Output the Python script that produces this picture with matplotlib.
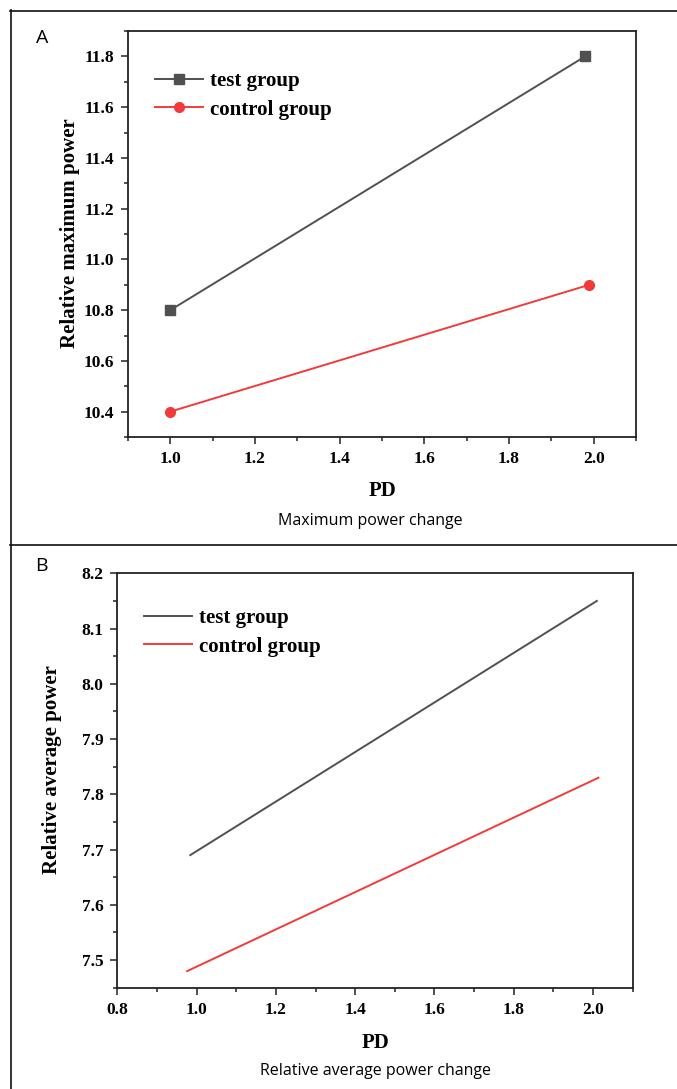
import matplotlib
matplotlib.use("Agg")
import matplotlib.pyplot as plt
from matplotlib.lines import Line2D

# ---- data ----
pd_a_test = [1.0, 1.98]
max_test = [10.8, 11.8]
pd_a_ctrl = [1.0, 1.99]
max_ctrl = [10.4, 10.9]

pd_b_test = [0.984, 2.01]
avg_test = [7.69, 8.15]
pd_b_ctrl = [0.976, 2.014]
avg_ctrl = [7.48, 7.83]

series_labels = ["test group", "control group"]
captions = ["Maximum power change", "Relative average power change"]

W, H = 677, 1089
fig = plt.figure(figsize=(W / 100, H / 100), dpi=100)

GRAY = "#505050"
RED = "#f23a3a"
SERIF = "Liberation Serif"
SANS = "Open Sans"

def fx(px):
    return px / W

def fy(py):
    return 1 - py / H

def make_axes(l, t, r, b):
    return fig.add_axes([fx(l), fy(b), fx(r) - fx(l), fy(t) - fy(b)])

def anchor(l, t, r, b, px, py):
    return ((px - l) / (r - l), (b - py) / (b - t))

def style(ax):
    for s in ax.spines.values():
        s.set_linewidth(1.3)
        s.set_color("#222222")
    ax.tick_params(which="both", direction="out", top=False, right=False,
                   width=1.1, color="#222222")
    ax.tick_params(which="major", length=5, pad=5)
    ax.tick_params(which="minor", length=3)
    for lab in ax.get_xticklabels() + ax.get_yticklabels():
        lab.set_fontfamily(SERIF)
        lab.set_fontweight("bold")
        lab.set_fontsize(12.5)

leg_kw = dict(loc="upper left", frameon=False, borderpad=0, borderaxespad=0,
              handlelength=2.3, handletextpad=0.33, labelspacing=0.41,
              prop={"family": SERIF, "weight": "bold", "size": 15})

# ---- panel A ----
boxA = (128, 31, 636, 437)
axA = make_axes(*boxA)
axA.plot(pd_a_test, max_test, color=GRAY, lw=1.4, marker="s", ms=6.5,
         label=series_labels[0])
axA.plot(pd_a_ctrl, max_ctrl, color=RED, lw=1.4, marker="o", ms=7,
         label=series_labels[1])
axA.set_xlim(0.9, 2.1)
axA.set_ylim(10.3, 11.9)
axA.set_xticks([1.0, 1.2, 1.4, 1.6, 1.8, 2.0])
axA.set_xticks([0.9, 1.1, 1.3, 1.5, 1.7, 1.9, 2.1], minor=True)
axA.set_yticks([10.4, 10.6, 10.8, 11.0, 11.2, 11.4, 11.6, 11.8])
axA.set_yticks([10.3, 10.5, 10.7, 10.9, 11.1, 11.3, 11.5, 11.7, 11.9], minor=True)
style(axA)
axA.legend(bbox_to_anchor=anchor(*boxA, 155, 71), **leg_kw)

fig.text(fx(70), fy(233), "Relative maximum power", rotation=90, ha="center", va="center",
         family=SERIF, weight="bold", fontsize=15)
fig.text(fx(382), fy(491), "PD", ha="center", va="center",
         family=SERIF, weight="bold", fontsize=15)
fig.text(fx(370), fy(521), captions[0], ha="center", va="center",
         family=SANS, fontsize=11.5)
fig.text(fx(42), fy(38), "A", ha="center", va="center", family=SANS, fontsize=14)

# ---- panel B ----
boxB = (117.4, 573.3, 632.5, 987.7)
axB = make_axes(*boxB)
axB.plot(pd_b_test, avg_test, color=GRAY, lw=1.4, label=series_labels[0])
axB.plot(pd_b_ctrl, avg_ctrl, color=RED, lw=1.4, label=series_labels[1])
axB.set_xlim(0.8, 2.1)
axB.set_ylim(7.45, 8.2)
axB.set_xticks([0.8, 1.0, 1.2, 1.4, 1.6, 1.8, 2.0])
axB.set_xticks([0.9, 1.1, 1.3, 1.5, 1.7, 1.9, 2.1], minor=True)
axB.set_yticks([7.5, 7.6, 7.7, 7.8, 7.9, 8.0, 8.1, 8.2])
axB.set_yticks([7.45, 7.55, 7.65, 7.75, 7.85, 7.95, 8.05, 8.15], minor=True)
style(axB)
axB.legend(bbox_to_anchor=anchor(*boxB, 144, 608), **leg_kw)

fig.text(fx(52), fy(770), "Relative average power", rotation=90, ha="center", va="center",
         family=SERIF, weight="bold", fontsize=15)
fig.text(fx(376), fy(1043), "PD", ha="center", va="center",
         family=SERIF, weight="bold", fontsize=15)
fig.text(fx(376), fy(1071), captions[1], ha="center", va="center",
         family=SANS, fontsize=11.5)
fig.text(fx(41), fy(566), "B", ha="center", va="center", family=SANS, fontsize=14)

# ---- panel borders ----
def hline(y, x0, x1):
    fig.add_artist(Line2D([fx(x0), fx(x1)], [fy(y), fy(y)], color="#111111", lw=1.2))

def vline(x, y0, y1):
    fig.add_artist(Line2D([fx(x), fx(x)], [fy(y0), fy(y1)], color="#111111", lw=1.2))

hline(10.5, 10, W)
hline(544.5, 10, W)
vline(10.5, 10, H)

fig.savefig("out.png", dpi=100)
